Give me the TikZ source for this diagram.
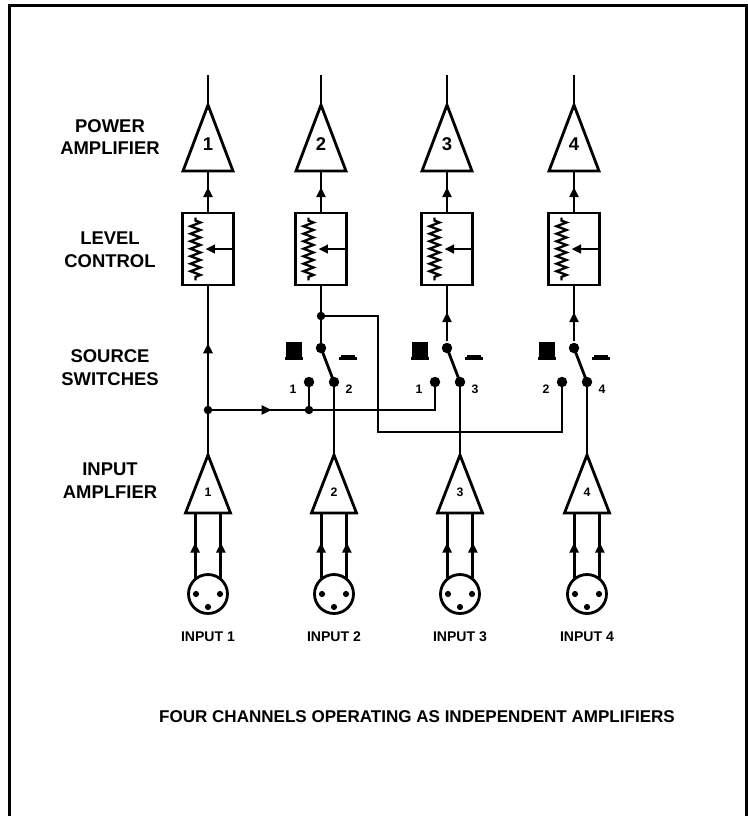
\documentclass[tikz,border=0pt]{standalone}
\usepackage{fontspec}
\setmainfont{Liberation Sans}
\usetikzlibrary{arrows.meta,decorations.markings,decorations.pathmorphing}

\begin{document}
\begin{tikzpicture}[x=0.02cm,y=-0.02cm,line width=1.6pt]
			\tikzset{
				pamp/.style={rectangle,minimum width=1cm,minimum height=1.32cm,inner sep=0pt,outer sep=0pt},
				iamp/.style={rectangle,minimum width=0.9cm,minimum height=1.16cm,inner sep=0pt,outer sep=0pt},
				lvlbox/.style={draw,rectangle,minimum width=1.02cm,minimum height=1.44cm,inner sep=0pt},
				xlr/.style={draw,circle,minimum size=0.78cm,inner sep=0pt},
				circ/.style={fill,circle,minimum size=0.17cm,inner sep=0pt},
				swdot/.style={fill,circle,minimum size=0.21cm,inner sep=0pt},
				hd/.style={font=\fontsize{10.5}{13}\selectfont\bfseries,align=center,inner sep=0pt},
				bignum/.style={font=\fontsize{10.5}{12}\selectfont\bfseries,inner sep=0pt},
				smallnum/.style={font=\fontsize{7}{8}\selectfont\bfseries,inner sep=0pt},
				inlbl/.style={font=\fontsize{8}{9}\selectfont\bfseries,inner sep=0pt},
				wipertip/.style={-{Triangle[length=0.19cm,width=0.17cm]}},
				midarrow/.style={postaction={decorate},decoration={markings,mark=at position #1 with {\arrow{Triangle[length=0.2cm,width=0.18cm]}}}},
				wiper/.style={decorate,decoration={zigzag,segment length=0.15cm,amplitude=0.1cm,pre length=0.06cm,post length=0.06cm},line width=1.3pt}
			}
			\useasboundingbox (0,0) rectangle (748,816);
			\draw [line width=1.4pt] (9.7,816) -- (9.7,5.7) -- (746.5,5.7) -- (746.5,816);

			\draw (110,137) node [hd] (LPA) {POWER\\AMPLIFIER};
			\draw (110,250) node [hd] (LLC) {LEVEL\\CONTROL};
			\draw (110,368) node [hd] (LSS) {SOURCE\\SWITCHES};
			\draw (110,481) node [hd] (LIA) {INPUT\\AMPLFIER};

			\foreach \n/\c in {1/208,2/321,3/447,4/574}{
				\draw (\c,138) node [pamp] (PA\n) {};
				\draw (PA\n.south west) -- (PA\n.north) -- (PA\n.south east) -- cycle;
				\draw ([yshift=-0.13cm]PA\n.center) node [bignum] (PN\n) {\n};
				\draw (PA\n.north) -- ++(0,-30) coordinate (OUT\n);
				\draw (\c,249) node [lvlbox] (LC\n) {};
				\draw [midarrow=0.6] (LC\n.north) -- (PA\n.south);
				\draw [wiper] ([xshift=-0.25cm,yshift=-0.12cm]LC\n.north) -- ([xshift=-0.25cm,yshift=0.12cm]LC\n.south);
				\draw [wipertip] (LC\n.east) -- ([xshift=-0.05cm]LC\n.center);
			}

			\foreach \n/\c/\i/\a/\b in {2/321/334/1/2,3/447/460/1/3,4/574/587/2/4}{
				\draw (\c,348) node [swdot] (SP\n) {};
				\draw (\c-12,382) node [swdot] (SA\n) {};
				\draw (\i,382) node [swdot] (SC\n) {};
				\draw (SP\n.center) -- (SC\n.center);
				\draw (SA\n) ++(-16,7) node [smallnum] (SAL\n) {\a};
				\draw (SC\n) ++(15,7) node [smallnum] (SCL\n) {\b};
				\fill (\c-35,342) rectangle (\c-19,358);
				\fill (\c-36,357) rectangle (\c-18,360);
				\fill (\c+20,355) rectangle (\c+34,358);
				\fill (\c+18,357) rectangle (\c+36,360);
			}

			\foreach \n/\i in {1/208,2/334,3/460,4/587}{
				\draw (\i,484) node [iamp] (IA\n) {};
				\draw (IA\n.south west) -- (IA\n.north) -- (IA\n.south east) -- cycle;
				\draw ([yshift=-0.16cm]IA\n.center) node [smallnum] (IN\n) {\n};
				\draw (\i,594) node [xlr] (X\n) {};
				\draw [midarrow=0.54] (X\n.128) -- (X\n.128 |- IA\n.south);
				\draw [midarrow=0.54] (X\n.52) -- (X\n.52 |- IA\n.south);
				\fill (\i-12,594) circle (0.062cm);
				\fill (\i+12,594) circle (0.062cm);
				\fill (\i,607) circle (0.062cm);
				\draw (X\n) ++(0,43) node [inlbl] (INL\n) {INPUT \n};
			}

			\draw (208,410) node [circ] (J1) {};
			\draw (309,410) node [circ] (J3) {};
			\draw (321,316) node [circ] (J2) {};
			\coordinate (K1) at (378,432);

			\draw [midarrow=0.54] (J1.center) -- (LC1.south);
			\draw (J1.center) -- (IA1.north);
			\draw [midarrow=0.63] (J1.center) -- (J3.center);
			\draw (J3.center) -- (SA2.center);
			\draw (J3.center) -| (SA3.center);

			\draw (LC2.south) -- (J2.center) -- (SP2.center);
			\draw (J2.center) -| (K1) -| (SA4.center);
			\draw [midarrow=0.53] (SP3) -- (LC3.south);
			\draw [midarrow=0.53] (SP4) -- (LC4.south);

			\draw (SC2.center) -- (IA2.north);
			\draw (SC3.center) -- (IA3.north);
			\draw (SC4.center) -- (IA4.north);

			\draw (417,717) node [font=\fontsize{9.7}{11}\selectfont\bfseries,inner sep=0pt] (CAP) {FOUR CHANNELS OPERATING AS INDEPENDENT AMPLIFIERS};
\end{tikzpicture}
\end{document}
